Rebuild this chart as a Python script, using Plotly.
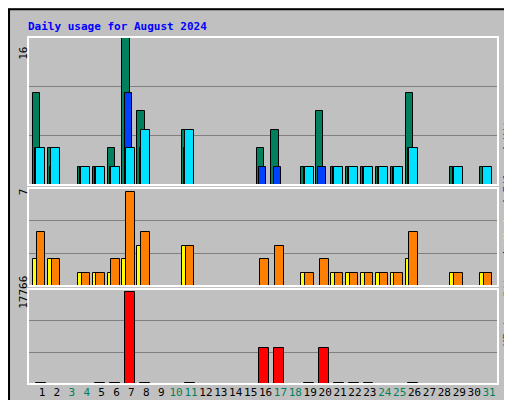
import plotly.graph_objects as go
from plotly.subplots import make_subplots

days = list(range(1, 32))
weekend = [3, 4, 10, 11, 17, 18, 24, 25, 31]

hits = [10, 4, 0, 2, 2, 4, 16, 8, 0, 0, 6, 0, 0, 0, 0, 4, 6, 0, 2, 8, 2, 2, 2, 2, 2, 10, 0, 0, 2, 0, 2]
files = [4, 2, 0, 2, 2, 2, 10, 4, 0, 0, 4, 0, 0, 0, 0, 2, 2, 0, 2, 2, 2, 2, 2, 2, 2, 4, 0, 0, 2, 0, 0]
pages = [4, 4, 0, 2, 2, 2, 4, 6, 0, 0, 6, 0, 0, 0, 0, 0, 0, 0, 2, 0, 2, 2, 2, 2, 2, 4, 0, 0, 2, 0, 2]
visits = [2, 2, 0, 1, 1, 1, 2, 3, 0, 0, 3, 0, 0, 0, 0, 0, 0, 0, 1, 0, 1, 1, 1, 1, 1, 2, 0, 0, 1, 0, 1]
sites = [4, 2, 0, 1, 1, 2, 7, 4, 0, 0, 3, 0, 0, 0, 0, 2, 3, 0, 1, 2, 1, 1, 1, 1, 1, 4, 0, 0, 1, 0, 1]
kbytes = [150, 0, 0, 0, 150, 150, 17766, 150, 0, 0, 150, 0, 0, 0, 0, 6950, 6950, 0, 150, 6950,
          150, 150, 150, 0, 0, 150, 0, 0, 0, 0, 0]

bg = "#c0c0c0"
mono = "DejaVu Sans Mono"

fig = make_subplots(rows=3, cols=1, shared_xaxes=True, vertical_spacing=0)

def bars(vals, color, off, w, row):
    fig.add_trace(go.Bar(x=days, y=vals, offset=off, width=w, marker_color=color,
                         marker_line=dict(color="black", width=1), showlegend=False), row=row, col=1)

bars(hits, "#00805c", -0.6, 0.48, 1)
bars(files, "#0040ff", -0.45, 0.5, 1)
bars(pages, "#00e0ff", -0.38, 0.6, 1)
bars(visits, "#ffff00", -0.6, 0.42, 2)
bars(sites, "#ff8000", -0.35, 0.58, 2)
bars(kbytes, "#ff0000", -0.42, 0.66, 3)

x0, x1 = 20 / 512, 490 / 512
doms = [(1 - 177 / 400, 1 - 29 / 400), (1 - 278 / 400, 1 - 180 / 400), (1 - 376 / 400, 1 - 281 / 400)]
tops = [16, 7.3, 17766 * 95 / 92]
for i in range(3):
    n = "" if i == 0 else str(i + 1)
    fig.layout["yaxis" + n].update(domain=doms[i], range=[0, tops[i]], automargin=False,
                                   tickvals=[tops[i] / 3, 2 * tops[i] / 3], showticklabels=False,
                                   gridcolor="#808080", gridwidth=1, zeroline=False, showline=False)
    fig.layout["xaxis" + n].update(domain=[x0, x1], range=[0.06, 31.6], showgrid=False, automargin=False,
                                   zeroline=False, showline=False)
    fig.add_shape(type="rect", xref="paper", yref="paper", x0=x0, x1=x1, y0=doms[i][0], y1=doms[i][1],
                  line=dict(color="white", width=2))

ticktext = [f"<span style='color:#00805c'>{d}</span>" if d in weekend else str(d) for d in days]
fig.update_xaxes(tickvals=days, ticktext=ticktext, showticklabels=True, ticks="", tickangle=0,
                 tickfont=dict(family=mono, size=11, color="black"), row=3, col=1)

# outer frame
fig.add_shape(type="rect", xref="paper", yref="paper", x0=0.002, x1=0.998, y0=0.003, y1=0.997,
              line=dict(color="black", width=2))
fig.add_shape(type="line", xref="paper", yref="paper", x0=0.993, x1=0.993, y0=0.01, y1=0.985,
              line=dict(color="#808080", width=5))
fig.add_shape(type="line", xref="paper", yref="paper", x0=0.01, x1=0.996, y0=0.009, y1=0.009,
              line=dict(color="#808080", width=5))

ann = [
    (0.035, 0.975, "<b>Daily usage for August 2024</b>", 0, "#0000ff", "left"),
    (0.03, 1 - 37 / 400, "16", -90, "black", "center"),
    (0.03, 1 - 184 / 400, "7", -90, "black", "center"),
    (0.03, 1 - 303 / 400, "17766", -90, "black", "center"),
    (0.975, 1 - 103 / 400, "<span style='color:#00e0ff'>Pages</span> / <span style='color:#0040ff'>Files</span>"
     " / <span style='color:#00805c'>Hits</span>", -90, "black", "center"),
    (0.975, 1 - 243 / 400, "<span style='color:#ff8000'>Sites</span> / <span style='color:#ffff00'>Visits</span>",
     -90, "black", "center"),
    (0.975, 1 - 340 / 400, "<span style='color:#ff0000'>KBytes</span>", -90, "black", "center"),
]
for x, y, t, a, c, xa in ann:
    fig.add_annotation(x=x, y=y, xref="paper", yref="paper", text=t, textangle=a, showarrow=False,
                       xanchor=xa, font=dict(family=mono, size=11, color=c))

fig.update_layout(width=512, height=400, margin=dict(l=0, r=0, t=0, b=0),
                  paper_bgcolor=bg, plot_bgcolor=bg, barmode="overlay", bargap=0)

fig.write_html("out.html")
